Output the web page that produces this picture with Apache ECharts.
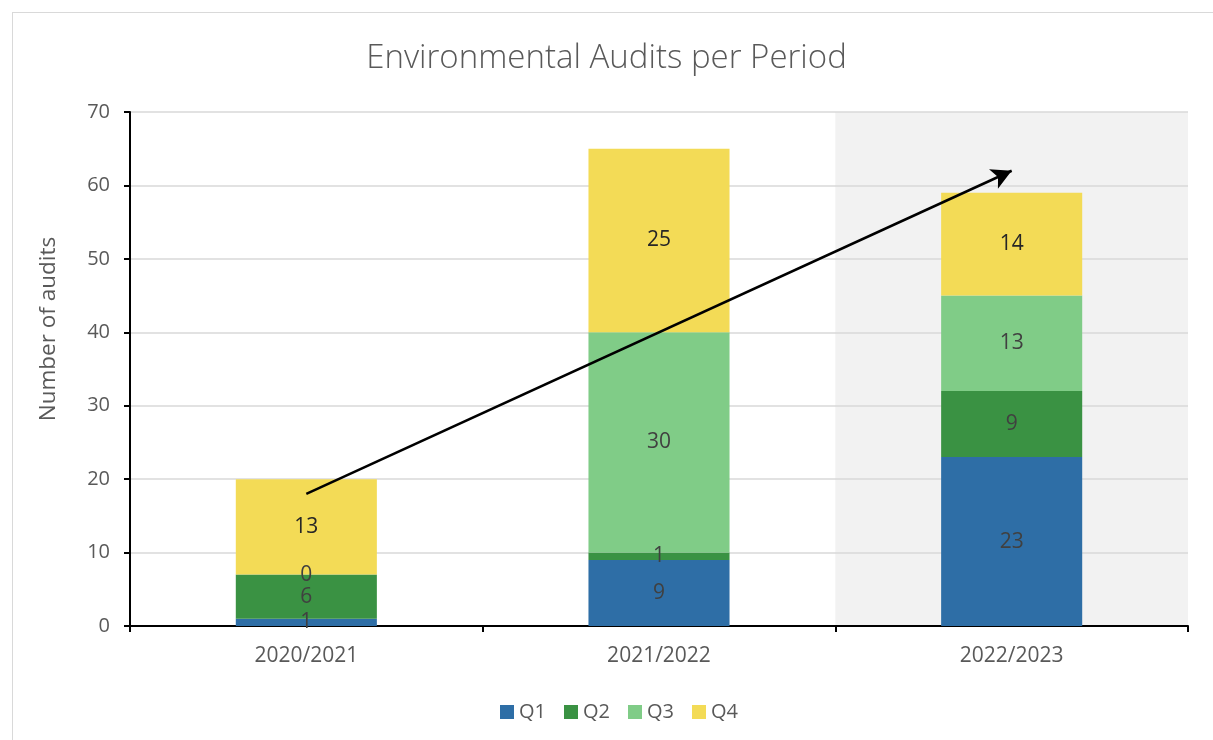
<!DOCTYPE html>
<html>
<head>
<meta charset="utf-8">
<script src="https://cdn.jsdelivr.net/npm/echarts@6/dist/echarts.min.js"></script>
<style>
  html, body { margin: 0; padding: 0; background: #fff; }
  #frame { position: absolute; left: 12px; top: 12px; width: 1220px; height: 740px; border: 1px solid #d9d9d9; box-sizing: border-box; }
  #main { width: 1213px; height: 740px; }
</style>
</head>
<body>
<div id="frame"></div>
<div id="main"></div>
<script>
// 数据
const periods = ['2020/2021', '2021/2022', '2022/2023'];
const q1 = [1, 9, 23];
const q2 = [6, 1, 9];
const q3 = [0, 30, 13];
const q4 = [13, 25, 14];
const yMax = 70;
const yStep = 10;
// 趋势箭头 (起点/终点)
const trendStart = ['2020/2021', 18];
const trendEnd = ['2022/2023', 62];
// 高亮的类别
const highlighted = '2022/2023';

const labelStyle = (color) => ({
  show: true,
  position: 'inside',
  color: color,
  fontSize: 21,
  fontFamily: 'Open Sans',
});

const chart = echarts.init(document.getElementById('main'));
const options = {
  animation: false,
  title: {
    text: 'Environmental Audits per Period',
    left: 'center',
    top: 37,
    textStyle: {
      fontFamily: 'Open Sans',
      fontWeight: 300,
      fontSize: 33,
      color: '#595959',
    },
  },
  legend: {
    bottom: 13,
    left: 495,
    itemWidth: 14,
    itemHeight: 14,
    itemGap: 18,
    icon: 'rect',
    textStyle: { fontFamily: 'Open Sans', fontSize: 20, color: '#595959' },
    data: ['Q1', 'Q2', 'Q3', 'Q4'],
  },
  grid: { left: 130, right: 25, top: 112, bottom: 114 },
  xAxis: [
    {
      type: 'category',
      data: periods,
      axisLine: { lineStyle: { color: '#000', width: 2 } },
      axisTick: { show: true, length: 6, lineStyle: { color: '#000', width: 2 } },
      axisLabel: { margin: 20, fontFamily: 'Open Sans', fontSize: 21, color: '#595959' },
    },
    {
      type: 'category',
      data: periods,
      show: false,
    },
  ],
  yAxis: {
    type: 'value',
    min: 0,
    max: yMax,
    interval: yStep,
    name: 'Number of audits',
    nameLocation: 'middle',
    nameGap: 70,
    nameTextStyle: { fontFamily: 'Open Sans', fontSize: 22.5, color: '#595959', padding: [0, 0, 0, 80] },
    axisLine: { show: true, lineStyle: { color: '#000', width: 2 } },
    axisTick: { show: true, length: 6, lineStyle: { color: '#000', width: 2 } },
    axisLabel: { margin: 20, fontFamily: 'Open Sans', fontSize: 20, color: '#595959' },
    splitLine: { lineStyle: { color: '#d9d9d9', width: 1.5 } },
  },
  series: [
    {
      name: 'shade',
      type: 'bar',
      xAxisIndex: 1,
      data: periods.map((p) => (p === highlighted ? yMax : null)),
      barWidth: '100%',
      itemStyle: { color: '#f2f2f2' },
      silent: true,
      z: -1,
      legendHoverLink: false,
    },
    {
      name: 'Q1',
      type: 'bar',
      stack: 'total',
      data: q1,
      barWidth: '40%',
      itemStyle: { color: '#2e6ea6' },
      label: labelStyle('#404040'),
      markLine: {
        silent: true,
        symbol: ['none', 'arrow'],
        symbolSize: [16, 20],
        label: { show: false },
        lineStyle: { color: '#000', width: 2.5, type: 'solid' },
        z: 10,
        data: [[{ coord: trendStart }, { coord: trendEnd }]],
      },
    },
    {
      name: 'Q2',
      type: 'bar',
      stack: 'total',
      data: q2,
      itemStyle: { color: '#3a9243' },
      label: labelStyle('#404040'),
    },
    {
      name: 'Q3',
      type: 'bar',
      stack: 'total',
      data: q3,
      itemStyle: { color: '#80cc87' },
      label: labelStyle('#404040'),
    },
    {
      name: 'Q4',
      type: 'bar',
      stack: 'total',
      data: q4,
      itemStyle: { color: '#f3db56' },
      label: labelStyle('#262626'),
    },
  ],
};
chart.setOption(options);
window.onresize = function () {
  chart.resize();
};
</script>
</body>
</html>
